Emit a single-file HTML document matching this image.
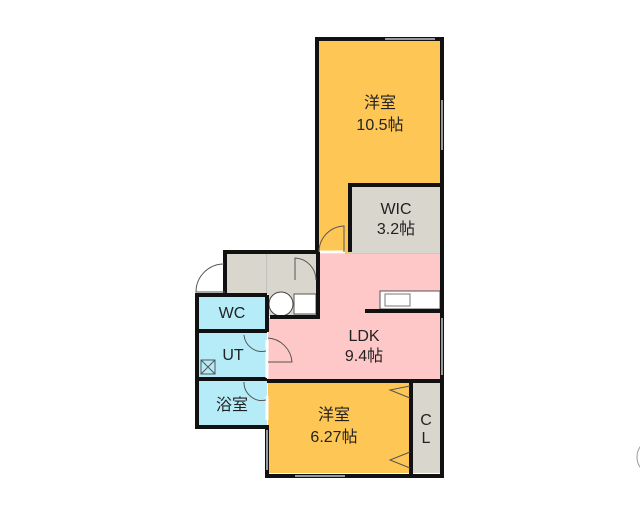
<!DOCTYPE html>
<html><head><meta charset="utf-8"><style>
html,body{margin:0;padding:0;background:#fff;width:640px;height:512px;overflow:hidden}
svg text{font-family:"Liberation Sans","Noto Sans CJK JP",sans-serif;fill:#222;text-anchor:middle}
</style></head><body>
<svg width="640" height="512" viewBox="0 0 640 512">
<rect x="317" y="39" width="124" height="215" fill="#FDC655"/>
<rect x="350" y="185" width="91" height="68" fill="#D9D6CD"/>
<rect x="227" y="254" width="40" height="40" fill="#D9D6CD"/>
<rect x="268" y="254" width="50" height="62" fill="#D9D6CD"/>
<polygon points="318,254 441,254 441,380 268,380 268,318 318,318" fill="#FFC8C8"/>
<rect x="197" y="295" width="70" height="132" fill="#B5ECF8"/>
<rect x="268" y="382" width="143" height="91" fill="#FDC655"/>
<rect x="412" y="382" width="29" height="91" fill="#D9D6CD"/>
<rect x="380" y="291" width="60" height="18" fill="#fff" stroke="#555" stroke-width="1"/>
<rect x="385" y="294" width="25" height="12" fill="#fff" stroke="#777" stroke-width="1"/>
<line x1="365" y1="311" x2="441" y2="311" stroke="#111" stroke-width="4"/>
<circle cx="281" cy="304" r="12" fill="#fff" stroke="#444"/>
<rect x="294" y="294" width="22" height="20" fill="#fff" stroke="#555"/>
<line x1="267" y1="254" x2="267" y2="294" stroke="#aaa" stroke-width="1"/>
<g fill="none" stroke="#111" stroke-width="4">
<polyline points="317,252 317,39 442,39 442,476 267,476 267,427 197,427 197,295 225,295 225,252 317,252"/>
<polyline points="350,252 350,185 442,185"/>
<polyline points="318,252 318,317 270,317"/>
<line x1="267" y1="295" x2="267" y2="332"/>
<line x1="197" y1="331" x2="267" y2="331"/>
<line x1="197" y1="379" x2="267" y2="379"/>
<line x1="267" y1="381" x2="442" y2="381"/>
<line x1="411" y1="381" x2="411" y2="476"/>
<line x1="225" y1="295" x2="267" y2="295"/>
</g>
<g stroke="#fff" stroke-width="3">
<line x1="320" y1="252" x2="345" y2="252"/>
<line x1="267" y1="340" x2="267" y2="378"/>
<line x1="267" y1="396" x2="267" y2="420"/>
</g>
<g fill="none" stroke="#555" stroke-width="1">
<path d="M344,252 L344,226 A26,26 0 0 0 319,252"/>
<path d="M225,292 L196,292 A28,28 0 0 1 224,264"/>
<path d="M316,280 A22,22 0 0 0 295,258 L295,280"/>
<path d="M268,338 A26,26 0 0 1 292,362 L268,362"/>
<path d="M266,351 A18,18 0 0 1 244,335"/>
<path d="M266,400 A18,18 0 0 1 244,382"/>
<rect x="201" y="360" width="14" height="14"/>
<path d="M201,360 L215,374 M215,360 L201,374"/>
<path d="M410,386 L390,390 L410,398"/>
<path d="M410,452 L390,460 L410,468"/>
<circle cx="655" cy="457" r="18" stroke="#999"/>
</g>
<g stroke="#999" stroke-width="2">
<line x1="385" y1="39" x2="435" y2="39"/>
<line x1="442" y1="100" x2="442" y2="150"/>
<line x1="442" y1="318" x2="442" y2="375"/>
<line x1="295" y1="476" x2="345" y2="476"/>
<line x1="267" y1="430" x2="267" y2="470"/>
</g>
<text x="380" y="108" font-size="16">洋室</text>
<text x="380" y="130" font-size="16">10.5帖</text>
<text x="396" y="214" font-size="16">WIC</text>
<text x="396" y="234" font-size="16">3.2帖</text>
<text x="364" y="341" font-size="16">LDK</text>
<text x="364" y="361" font-size="16">9.4帖</text>
<text x="232" y="318" font-size="16">WC</text>
<text x="233" y="360" font-size="16">UT</text>
<text x="232" y="410" font-size="16">浴室</text>
<text x="334" y="420" font-size="16">洋室</text>
<text x="334" y="442" font-size="16">6.27帖</text>
<text x="426" y="425" font-size="16">C</text>
<text x="426" y="443" font-size="16">L</text>
</svg>
</body></html>
